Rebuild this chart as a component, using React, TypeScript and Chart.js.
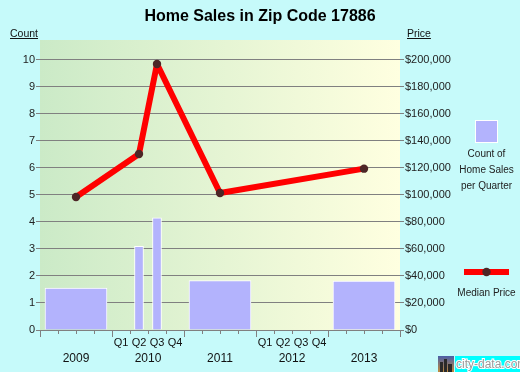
import React, { useEffect, useRef } from 'react';
import { Chart, registerables } from 'chart.js';

Chart.register(...registerables);

const FONT = "'Liberation Sans', Arial, Helvetica, sans-serif";

const titleText = 'Home Sales in Zip Code 17886';
const leftAxisTitle = 'Count';
const rightAxisTitle = 'Price';
const years = ['2009', '2010', '2011', '2012', '2013'];
const quarters = ['Q1', 'Q2', 'Q3', 'Q4'];
const quarterYears = ['2010', '2012'];
const annualPeriods = ['2009', '2011', '2013'];
const annualCounts = [1.55, 1.83, 1.81];
const quarterPeriods = ['2010 Q2', '2010 Q3'];
const quarterCounts = [3.1, 4.15];
const pricePeriods = ['2009', '2010 Q2', '2010 Q3', '2011', '2013'];
const medianPrices = [98500, 130400, 197000, 101500, 119500];
const countTicks = [0, 1, 2, 3, 4, 5, 6, 7, 8, 9, 10];
const priceTicks = [0, 20000, 40000, 60000, 80000, 100000, 120000, 140000, 160000, 180000, 200000];
const countMax = 10.74;
const priceMax = 214800;
const countLegend = ['Count of', 'Home Sales', 'per Quarter'];
const priceLegend = 'Median Price';
const watermark = 'city-data.com';

const BAR_COLOR = '#b3b3fd';
const LINE_COLOR = '#ff0000';
const POINT_COLOR = '#4d2626';
const GRID = '#808080';
const CLEAR = 'rgba(0,0,0,0)';

// map a period label to a position on the quarter-based x scale
function periodX(p: string): number {
  const [y, q] = p.split(' ');
  const yi = years.indexOf(y);
  return q ? yi * 4 + quarters.indexOf(q) + 0.5 : yi * 4 + 2;
}

const decor = {
  id: 'decor',
  beforeDraw(chart: any) {
    const { ctx, chartArea: a } = chart;
    const g = ctx.createLinearGradient(a.left, 0, a.right, 0);
    g.addColorStop(0, '#cbeac7');
    g.addColorStop(1, '#ffffe0');
    ctx.save();
    ctx.fillStyle = g;
    ctx.fillRect(a.left, a.top, a.right - a.left, a.bottom - a.top);
    ctx.restore();
  },
  afterDraw(chart: any) {
    const { ctx, chartArea: a } = chart;
    const xs = chart.scales.x;
    ctx.save();
    // longer ticks at year boundaries
    ctx.strokeStyle = GRID;
    ctx.lineWidth = 1;
    for (let i = 0; i <= years.length; i++) {
      const px = Math.round(xs.getPixelForValue(i * 4)) + 0.5;
      ctx.beginPath();
      ctx.moveTo(px, a.bottom);
      ctx.lineTo(px, a.bottom + 7);
      ctx.stroke();
    }
    // title
    ctx.fillStyle = '#000';
    ctx.font = `bold 16px ${FONT}`;
    ctx.textAlign = 'center';
    ctx.textBaseline = 'alphabetic';
    ctx.fillText(titleText, 260, 21);
    // axis titles (underlined)
    ctx.font = `10.5px ${FONT}`;
    ctx.textAlign = 'left';
    ctx.fillStyle = '#111';
    const drawU = (t: string, x: number, y: number) => {
      ctx.fillText(t, x, y);
      const w = ctx.measureText(t).width;
      ctx.fillRect(x, y + 1, w, 1);
    };
    drawU(leftAxisTitle, 10, 37);
    drawU(rightAxisTitle, 407, 37);
    // legend: count swatch
    ctx.fillStyle = BAR_COLOR;
    ctx.fillRect(475, 120, 23, 23);
    ctx.strokeStyle = '#fff';
    ctx.lineWidth = 1;
    ctx.strokeRect(475.5, 120.5, 22, 22);
    ctx.fillStyle = '#222';
    ctx.font = `10px ${FONT}`;
    ctx.textAlign = 'center';
    ctx.textBaseline = 'middle';
    countLegend.forEach((t, i) => ctx.fillText(t, 486.5, 154 + i * 16));
    // legend: median price
    ctx.strokeStyle = LINE_COLOR;
    ctx.lineWidth = 6;
    ctx.beginPath();
    ctx.moveTo(464, 272);
    ctx.lineTo(509, 272);
    ctx.stroke();
    ctx.fillStyle = POINT_COLOR;
    ctx.beginPath();
    ctx.arc(486.5, 272, 4.2, 0, Math.PI * 2);
    ctx.fill();
    ctx.fillStyle = '#222';
    ctx.fillText(priceLegend, 486.5, 293);
    // watermark
    const ig = ctx.createLinearGradient(0, 356, 0, 372);
    ig.addColorStop(0, '#4a5fa8');
    ig.addColorStop(1, '#c08a3a');
    ctx.fillStyle = ig;
    ctx.fillRect(438, 356, 16, 16);
    ctx.fillStyle = '#2a2a2a';
    ctx.fillRect(440, 362, 3, 10);
    ctx.fillRect(444, 359, 3, 13);
    ctx.fillRect(448, 364, 4, 8);
    ctx.fillStyle = '#00ffff';
    ctx.fillRect(455, 356, 65, 16);
    ctx.font = `12px ${FONT}`;
    ctx.textAlign = 'left';
    ctx.textBaseline = 'alphabetic';
    ctx.lineWidth = 2;
    ctx.strokeStyle = '#ffffff';
    ctx.strokeText(watermark, 456, 368);
    ctx.fillStyle = '#9a9a9a';
    ctx.fillText(watermark, 456, 368);
    ctx.restore();
  },
};

export default function App() {
  const ref = useRef<HTMLCanvasElement | null>(null);
  useEffect(() => {
    if (!ref.current) return;
    const chart = new Chart(ref.current, {
      type: 'bar',
      data: {
        datasets: [
          {
            type: 'line',
            label: priceLegend,
            data: pricePeriods.map((p, i) => ({ x: periodX(p), y: medianPrices[i] })),
            yAxisID: 'y1',
            borderColor: LINE_COLOR,
            borderWidth: 6,
            borderJoinStyle: 'round',
            borderCapStyle: 'butt',
            pointRadius: 4.2,
            pointBackgroundColor: POINT_COLOR,
            pointBorderWidth: 0,
            tension: 0,
            order: 0,
          } as any,
          {
            type: 'bar',
            label: 'annual',
            data: annualPeriods.map((p, i) => ({ x: periodX(p), y: annualCounts[i] })),
            yAxisID: 'y',
            backgroundColor: BAR_COLOR,
            borderColor: '#ffffff',
            borderWidth: 1,
            barThickness: 62,
            grouped: false,
            order: 1,
          } as any,
          {
            type: 'bar',
            label: 'quarterly',
            data: quarterPeriods.map((p, i) => ({ x: periodX(p), y: quarterCounts[i] })),
            yAxisID: 'y',
            backgroundColor: BAR_COLOR,
            borderColor: '#ffffff',
            borderWidth: 1,
            barThickness: 9,
            grouped: false,
            order: 1,
          } as any,
        ],
      },
      options: {
        responsive: false,
        animation: false,
        devicePixelRatio: 1,
        layout: { padding: { top: 40, left: 0, right: 0, bottom: 0 } },
        plugins: { legend: { display: false }, title: { display: false }, tooltip: { enabled: false } },
        scales: {
          x: {
            type: 'linear',
            position: 'bottom',
            min: 0,
            max: years.length * 4,
            offset: false,
            afterFit: (s: any) => { s.height = 42; },
            border: { display: true, color: GRID },
            grid: {
              drawOnChartArea: false,
              tickLength: 4,
              tickColor: (c: any) => (c.tick && Number.isInteger(c.tick.value) ? GRID : CLEAR),
              offset: false,
            },
            ticks: {
              stepSize: 0.5,
              maxTicksLimit: 200,
              autoSkip: false,
              maxRotation: 0,
              minRotation: 0,
              padding: 2,
              color: '#111',
              font: (c: any) => {
                const v = c.tick ? c.tick.value : 0;
                return Number.isInteger(v)
                  ? { family: FONT, size: 12, lineHeight: 1.24 }
                  : { family: FONT, size: 11, lineHeight: 1.2 };
              },
              callback: (value: any) => {
                const v = Number(value);
                if (Number.isInteger(v)) {
                  return v % 4 === 2 ? ['', years[(v - 2) / 4]] : '';
                }
                const yi = Math.floor(v / 4);
                const qi = Math.floor(v - yi * 4);
                return quarterYears.includes(years[yi]) ? quarters[qi] : '';
              },
            },
          },
          y: {
            type: 'linear',
            position: 'left',
            min: 0,
            max: countMax,
            afterFit: (s: any) => { s.width = 40; },
            afterBuildTicks: (s: any) => { s.ticks = countTicks.map((value) => ({ value })); },
            border: { display: false },
            grid: { color: GRID, lineWidth: 1, tickLength: 4 },
            ticks: {
              autoSkip: false,
              padding: 1,
              color: '#222',
              font: { family: FONT, size: 11 },
              callback: (v: any) => String(v),
            },
          },
          y1: {
            type: 'linear',
            position: 'right',
            min: 0,
            max: priceMax,
            afterFit: (s: any) => { s.width = 120; },
            afterBuildTicks: (s: any) => { s.ticks = priceTicks.map((value) => ({ value })); },
            border: { display: false },
            grid: { drawOnChartArea: false, tickLength: 4, color: GRID },
            ticks: {
              autoSkip: false,
              padding: 1,
              color: '#222',
              font: { family: FONT, size: 11 },
              callback: (v: any) => '$' + Number(v).toLocaleString('en-US'),
            },
          },
        },
      } as any,
      plugins: [decor],
    });
    return () => chart.destroy();
  }, []);
  return (
    <div style={{ position: 'fixed', left: 0, top: 0, width: 520, height: 372, background: '#c6fafa' }}>
      <canvas ref={ref} width={520} height={372} style={{ display: 'block' }} />
    </div>
  );
}
